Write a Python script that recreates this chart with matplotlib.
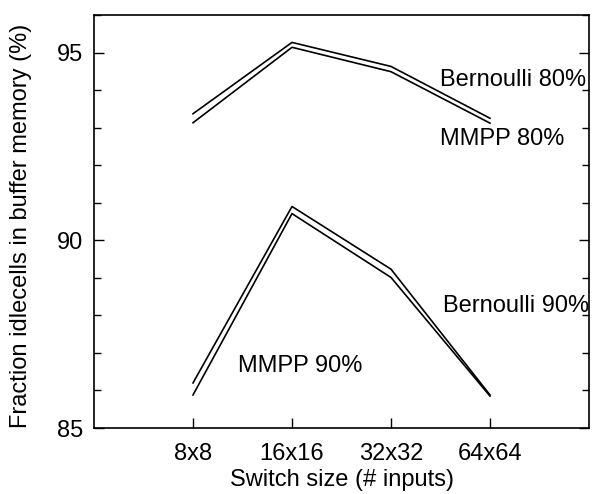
import numpy as np
import matplotlib.pyplot as plt
from matplotlib.ticker import MultipleLocator

plt.rcParams['font.family'] = ['Liberation Sans', 'DejaVu Sans']

# 数据
sizes = ["8x8", "16x16", "32x32", "64x64"]
bern_80 = [93.37, 95.27, 94.63, 93.25]
mmpp_80 = [93.13, 95.14, 94.49, 93.12]
bern_90 = [86.20, 90.90, 89.23, 85.88]
mmpp_90 = [85.88, 90.71, 89.01, 85.85]

x = np.arange(1, len(sizes) + 1)

fig = plt.figure(figsize=(5.92, 4.94), dpi=100)
ax = fig.add_axes([94/592, (494-428)/494, (589-94)/592, (428-15)/494])

for y in (bern_80, mmpp_80, bern_90, mmpp_90):
    ax.plot(x, y, color='black', linewidth=1.2)

ax.set_xlim(0, 5)
ax.set_ylim(85, 96)
ax.set_xticks(x)
ax.set_xticklabels(sizes)
ax.set_yticks([85, 90, 95])
ax.yaxis.set_minor_locator(MultipleLocator(1))
ax.tick_params(axis='both', which='both', direction='in', labelsize=17)
ax.tick_params(axis='y', which='both', right=True, pad=8)
ax.tick_params(which='major', length=7, width=1)
ax.tick_params(which='minor', length=5, width=1)
ax.tick_params(axis='x', pad=11)
for s in ax.spines.values():
    s.set_linewidth(1.2)

ax.set_xlabel("Switch size (# inputs)", fontsize=17)
ax.set_ylabel("Fraction idlecells in buffer memory (%)", fontsize=17)
ax.xaxis.set_label_coords(0.5, -0.100)
ax.yaxis.set_label_coords(-0.125, 0.49)

# 标注
ax.text(3.49, 94.12, "Bernoulli 80%", fontsize=17)
ax.text(3.49, 92.53, "MMPP 80%", fontsize=17)
ax.text(3.53, 88.09, "Bernoulli 90%", fontsize=17)
ax.text(1.455, 86.50, "MMPP 90%", fontsize=17)

fig.savefig("out.png", dpi=100)
